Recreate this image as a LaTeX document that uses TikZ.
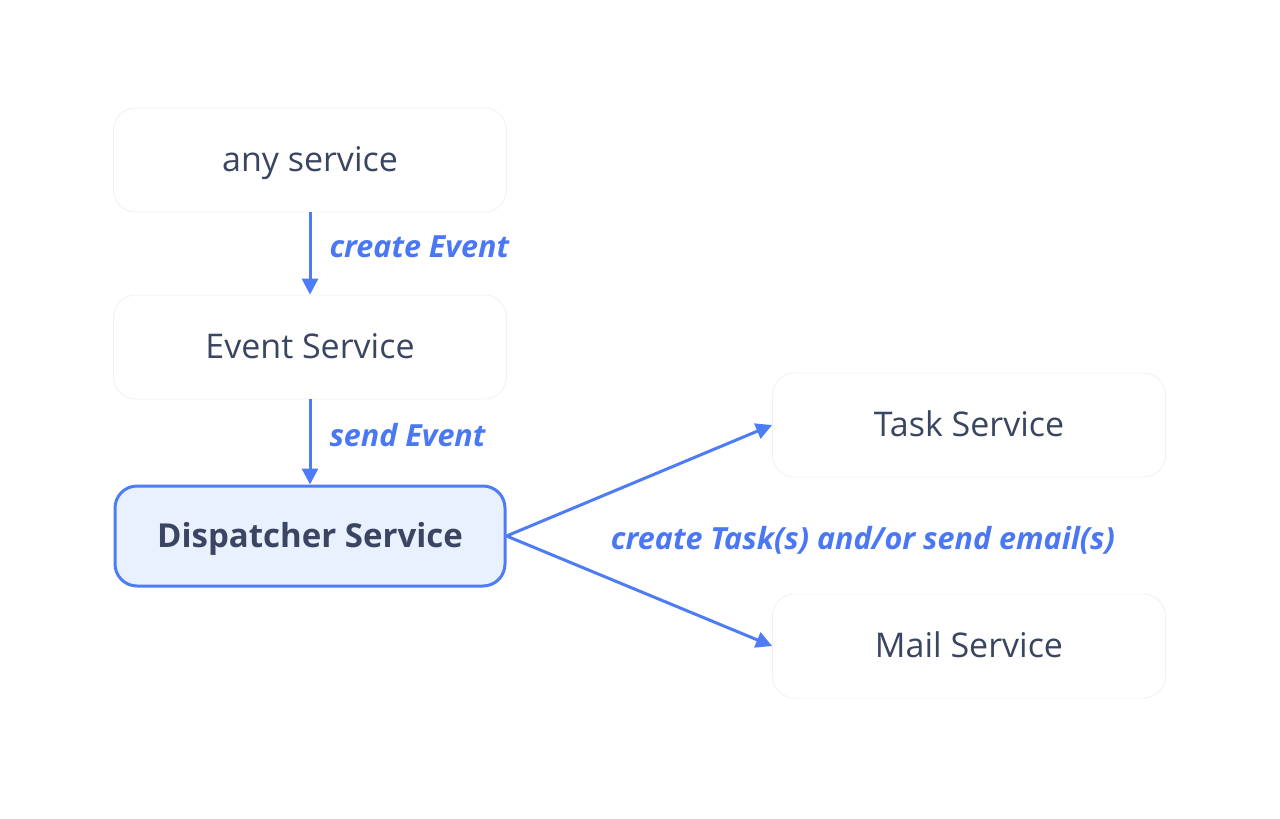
\documentclass[tikz,border=0pt]{standalone}
\usepackage{fontspec}
\setmainfont{Open Sans}
\usetikzlibrary{arrows.meta,positioning}
\pgfdeclarelayer{background}
\pgfsetlayers{background,main}
\definecolor{arrowblue}{HTML}{4D7CF5}
\definecolor{labelblue}{HTML}{4A78F4}
\definecolor{textdark}{HTML}{3A4562}
\definecolor{dispfill}{HTML}{E9F0FE}
\definecolor{boxedge}{HTML}{EEF1F8}
\definecolor{glowcol}{HTML}{E6EBFC}
\tikzset{
  svc/.style={draw=boxedge, line width=0.8pt, fill=white, rounded corners=22pt,
    minimum width=393pt, minimum height=104pt, text=textdark,
    font=\fontsize{34}{40}\selectfont, text depth=2pt},
  disp/.style={svc, draw=arrowblue, line width=3pt, fill=dispfill,
    minimum width=390pt, minimum height=100pt, font=\fontsize{33}{40}\selectfont\bfseries},
  conn/.style={draw=arrowblue, line width=3pt, -{Triangle[length=16pt,width=16pt]}},
  lbl/.style={text=labelblue, font=\fontsize{30.5}{36}\selectfont\bfseries\itshape, inner sep=0pt},
}
\begin{document}
\begin{tikzpicture}[x=1pt,y=-1pt]
\useasboundingbox (0,0) rectangle (1280,819);
\fill[white] (0,0) rectangle (1280,819);
\node[svc]  (any)  at (310,160) {any service};
\node[svc]  (evt)  at (310,347) {Event Service};
\node[disp] (dsp)  at (310,536) {Dispatcher Service};
\node[svc]  (task) at (969,425) {Task Service};
\node[svc]  (mail) at (969,646) {Mail Service};
\begin{pgfonlayer}{background}
\foreach \n in {any,evt,dsp,task,mail}{
  \foreach \i in {1,...,16}{
    \fill[glowcol, opacity=0.1, rounded corners={22pt+\i*4pt}]
      ([xshift={-\i*5pt}, yshift={\i*4pt}]\n.north west) rectangle
      ([xshift={\i*5pt}, yshift={-\i*6pt}]\n.south east);
  }
}
\end{pgfonlayer}
\draw[conn] (any.south) -- node[lbl, pos=0.42, anchor=west, xshift=18pt] (l1) {create Event} (evt.north);
\draw[conn] (evt.south) -- node[lbl, pos=0.42, anchor=west, xshift=18pt] (l2) {send Event} (dsp.north);
\draw[conn] (dsp.east) -- (task.west);
\draw[conn] (dsp.east) -- (mail.west);
\node[lbl] (l3) at (863,540) {create Task(s) and/or send email(s)};
\end{tikzpicture}
\end{document}
